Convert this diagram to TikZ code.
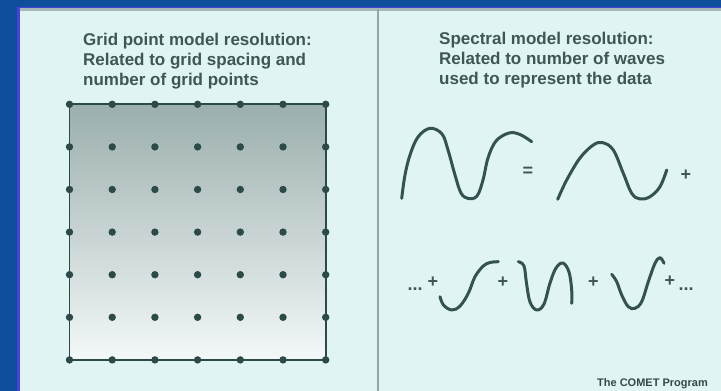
\documentclass[tikz,border=0pt]{standalone}
\usepackage{fontspec}
\setmainfont{Liberation Sans}
\definecolor{frameblue}{RGB}{14,78,155}
\definecolor{edgepurple}{RGB}{72,66,214}
\definecolor{panel}{RGB}{224,245,243}
\definecolor{rimgray}{RGB}{168,184,182}
\definecolor{divgray}{RGB}{150,165,164}
\definecolor{txt}{RGB}{62,86,84}
\definecolor{wave}{RGB}{52,82,80}
\definecolor{dotc}{RGB}{44,74,72}
\definecolor{gtop}{RGB}{155,175,173}
\definecolor{gbot}{RGB}{243,248,248}
\tikzset{
  heading/.style={anchor=north west, inner sep=0pt, align=left, text=txt,
    font=\fontsize{17}{19.7}\selectfont\bfseries},
  sign/.style={inner sep=0pt, text=txt, font=\fontsize{18}{18}\selectfont\bfseries},
  wavy/.style={draw=wave, line width=3pt, line cap=round, line join=round},
  gdot/.style={fill=dotc},
}
\begin{document}
\begin{tikzpicture}[x=1pt,y=-1pt]
\useasboundingbox (0,0) rectangle (721,391);
% frame
\fill[frameblue] (0,0) rectangle (721,391);
\fill[edgepurple] (17.3,6.7) rectangle (721,391);
\fill[rimgray] (20,8.3) rectangle (721,391);
\fill[panel] (20,10.5) rectangle (721,391);
% divider
\draw[divgray, line width=2pt] (378,9) -- (378,391);
% headings
\node[heading] (lefthead) at (83,33.2) {Grid point model resolution:\\Related to grid spacing and\\number of grid points};
\node[heading] (righthead) at (439,32.4) {Spectral model resolution:\\Related to number of waves\\used to represent the data};
% grid
\shade[top color=gtop, bottom color=gbot] (69.5,104.3) rectangle (325.7,360);
\draw[dotc, line width=1.8pt] (69.5,104.3) rectangle (325.7,360);
\foreach \i in {0,...,6}{
  \foreach \j in {0,...,6}{
    \fill[gdot] ({69.5+42.7*\i},{104.3+42.6*\j}) circle (3.7pt);
  }
}
% top row waves
\draw[wavy] plot[smooth, tension=0.6] coordinates {(401.7,198.3) (405,175) (410,155) (418,137) (430,128.3) (442,134) (448,150) (455,175) (461,193) (468.3,198.5) (477,196) (483,180) (488,158) (496,141) (509,133) (520,134.5) (531.7,141.7)};
\node[sign] (eq) at (528,172) {=};
\draw[wavy] plot[smooth, tension=0.6] coordinates {(557.7,199.3) (566.7,180) (580,158) (593.3,145) (602.7,142.7) (613.3,150) (623.3,173.3) (631.7,193.3) (640,199) (650,196.7) (660,186.7) (666.7,170)};
\node[sign] (p1) at (686,175) {+};
% bottom row
\node[sign, anchor=base] (dl) at (415,290) {...};
\node[sign] (p2) at (433,282.5) {+};
\draw[wavy] plot[smooth, tension=0.6] coordinates {(440,296.7) (443.5,305) (451.7,310) (460,306) (468.3,293.3) (475,276.7) (483.3,266) (490,262.5) (498.3,261.7)};
\node[sign] (p3) at (503,282) {+};
\draw[wavy] plot[smooth, tension=0.6] coordinates {(518.3,261.7) (524,266) (526.5,283.3) (530,302) (536.7,310) (544,304) (550,283) (556,268) (563,263) (569,272) (571.7,290) (571.7,303.3)};
\node[sign] (p4) at (593.3,282.3) {+};
\draw[wavy] plot[smooth, tension=0.6] coordinates {(611.7,274.3) (616.7,281.7) (621.7,295) (628.3,306.7) (635,308.3) (641.7,301.7) (648.3,281.7) (655,263.3) (660,257.7) (664,263.3)};
\node[sign] (p5) at (670,281.7) {+};
\node[sign, anchor=base] (dr) at (686,290) {...};
% credit
\node[anchor=base east, inner sep=0pt, text=txt!85!black, font=\fontsize{11}{11}\selectfont\bfseries] (credit) at (708,386.7) {The COMET Program};
\end{tikzpicture}
\end{document}
